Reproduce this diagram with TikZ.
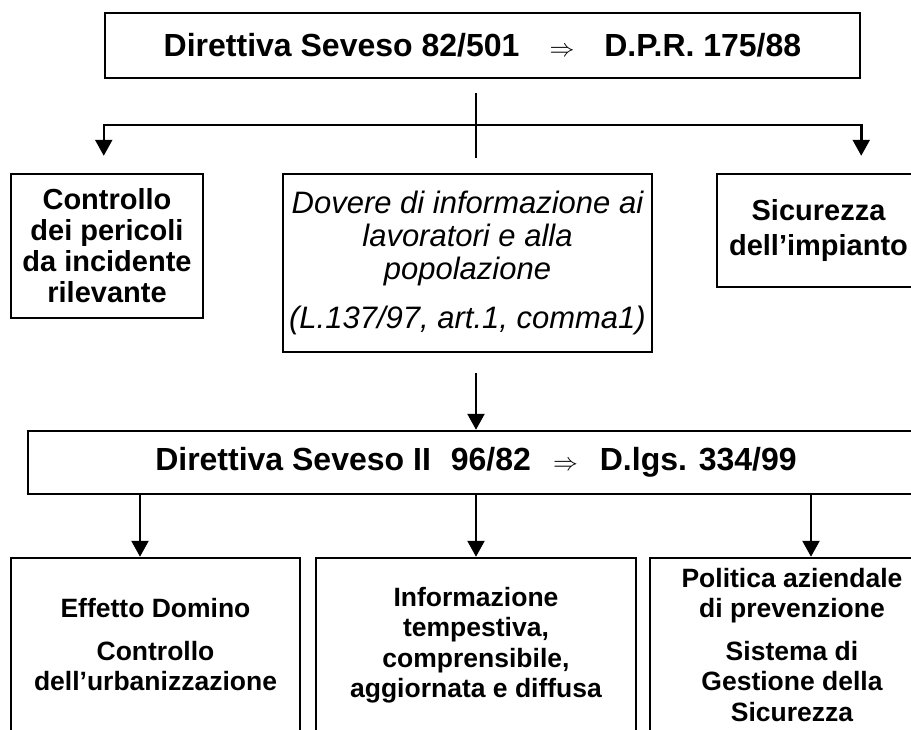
\documentclass[tikz,border=0pt]{standalone}
\usepackage{fontspec}
\setmainfont{Liberation Sans}
\usetikzlibrary{arrows.meta}
\tikzset{
  % node options
  box/.style={rectangle,draw,line width=2.5pt,align=center,inner sep=0pt},
  law/.style={box,font=\bfseries\fontsize{32}{34}\selectfont},
  topic/.style={box,font=\bfseries\fontsize{29}{31}\selectfont},
  aim/.style={box,font=\bfseries\fontsize{26.5}{30.5}\selectfont},
  duty/.style={box,font=\itshape\fontsize{31}{33}\selectfont},
  % path options
  link/.style={line width=2.5pt},
  flow/.style={link,-{Triangle[width=17pt,length=16pt]}},
}

\begin{document}
\begin{tikzpicture}[x=1pt,y=-1pt]
  \clip (0,0) rectangle (911,729);
  % first law and its three topics
  \node[law,minimum width=755pt,minimum height=65pt] (seveso) at (482.5,45.5)
    {Direttiva Seveso 82/501\hspace{30pt}$\Rightarrow$\hspace{30pt}D.P.R. 175/88};
  \node[topic,minimum width=192pt,minimum height=144pt] (pericoli) at (107,246)
    {Controllo\\dei pericoli\\da incidente\\rilevante};
  \node[duty,minimum width=369pt,minimum height=178pt] (informazione) at (467.5,263)
    {Dovere di informazione ai\\lavoratori e alla\\popolazione\\[16pt](L.137/97, art.1, comma1)};
  \node[topic,minimum width=203pt,minimum height=113pt] (impianto) at (818.5,230.5)
    {Sicurezza\\[4pt]dell'impianto};
  % second law and its three topics
  \node[law,minimum width=896pt,minimum height=63pt] (legge) at (476,462.5)
    {Direttiva Seveso II\hspace{20pt}96/82\hspace{22pt}$\Rightarrow$\hspace{22pt}D.lgs. 334/99};
  \node[aim,minimum width=289pt,minimum height=174pt] (domino) at (155.5,645)
    {Effetto Domino\\[12pt]Controllo\\dell'urbanizzazione};
  \node[aim,minimum width=320pt,minimum height=174pt] (tempestiva) at (476,645)
    {Informazione\\tempestiva,\\comprensibile,\\aggiornata e diffusa};
  \node[aim,minimum width=284pt,minimum height=174pt] (sgs) at (792,645)
    {Politica aziendale\\di prevenzione\\[12pt]Sistema di\\Gestione della\\Sicurezza};
  % connectors
  \coordinate (asse) at (476,0);
  \coordinate (ramo) at (476,125);
  \coordinate (pDomino) at (140,0);
  \coordinate (pSgs) at (811,0);
  \draw[link] ([yshift=-14pt]seveso.south -| asse) -- ([yshift=-33pt]ramo);
  \draw[flow,shorten >=17pt] (ramo) -| (seveso.south west |- pericoli.north);
  \draw[flow,shorten >=17pt] (ramo) -| (seveso.south east |- impianto.north);
  \draw[flow,shorten <=20pt] (informazione.south -| asse) -- (legge.north -| asse);
  \draw[flow] (legge.south -| pDomino) -- (domino.north -| pDomino);
  \draw[flow] (legge.south -| asse) -- (tempestiva.north -| asse);
  \draw[flow] (legge.south -| pSgs) -- (sgs.north -| pSgs);
\end{tikzpicture}
\end{document}
